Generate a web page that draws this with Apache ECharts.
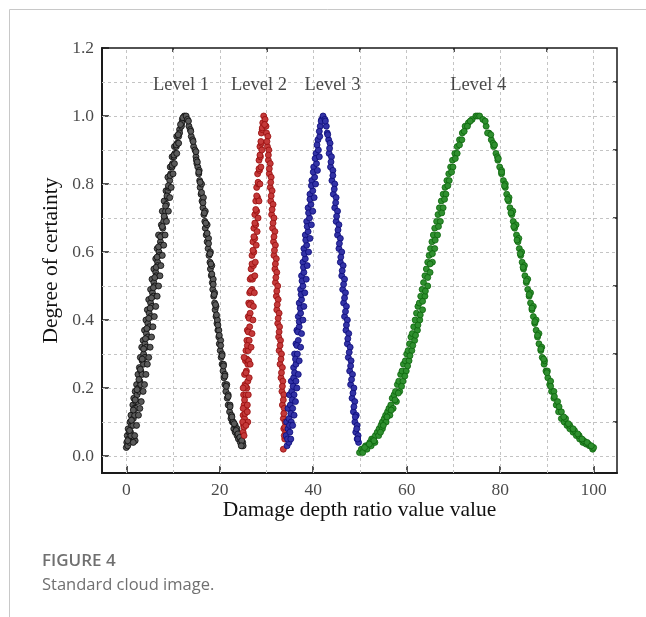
<!DOCTYPE html>
<html>
<head>
<meta charset="utf-8">
<title>Standard cloud image</title>
<script src="https://cdn.jsdelivr.net/npm/echarts@6/dist/echarts.min.js"></script>
<style>
  html, body { margin: 0; padding: 0; background: #fff; }
  #chart { width: 646px; height: 617px; }
</style>
</head>
<body>
<div id="chart"></div>
<script>
// axis ticks / labels
const xMin = -5.2, xMax = 105;
const yMin = -0.05, yMax = 1.2;
const xMajor = [0, 20, 40, 60, 80, 100];
const xMinor = [10, 30, 50, 70, 90];
const xGrid = [0, 10, 20, 30, 40, 50, 60, 70, 80, 90, 100];
const yMajor = [0, 0.2, 0.4, 0.6, 0.8, 1.0, 1.2];
const yMinor = [0.1, 0.3, 0.5, 0.7, 0.9, 1.1];
const yGrid = [0, 0.1, 0.2, 0.3, 0.4, 0.5, 0.6, 0.7, 0.8, 0.9, 1.0, 1.1];
const xTickText = ['0', '20', '40', '60', '80', '100'];
const yTickText = ['0.0', '0.2', '0.4', '0.6', '0.8', '1.0', '1.2'];

const levelNames = ['Level 1', 'Level 2', 'Level 3', 'Level 4'];
const levelLabelX = [11.7, 28.4, 44.1, 75.3];
const levelLabelY = [1.09, 1.09, 1.09, 1.09];

// cloud drops, [x, certainty]
const level1 = [
  [0.0,0.025],[0.1,0.04],[0.3,0.03],[0.2,0.06],[0.5,0.05],[0.6,0.07],[0.4,0.08],[0.9,0.07],[0.8,0.1],[1.1,0.09],
  [1.3,0.12],[1.0,0.12],[1.5,0.11],[1.4,0.15],[1.7,0.14],[1.6,0.17],[2.0,0.16],[1.9,0.19],[2.3,0.18],[2.2,0.21],
  [2.6,0.2],[2.5,0.24],[2.9,0.22],[2.8,0.26],[3.1,0.25],[3.0,0.29],[3.4,0.28],[3.3,0.32],[3.7,0.3],[3.6,0.34],
  [4.0,0.33],[3.9,0.37],[4.3,0.36],[4.2,0.4],[4.6,0.39],[4.5,0.43],[4.9,0.42],[4.8,0.46],[5.2,0.45],[5.2,0.49],
  [5.6,0.48],[5.5,0.52],[5.9,0.51],[5.9,0.55],[6.3,0.54],[6.3,0.58],[6.7,0.57],[6.6,0.61],[7.0,0.6],[6.9,0.65],
  [7.3,0.63],[7.5,0.68],[7.8,0.67],[7.7,0.72],[8.2,0.7],[8.1,0.75],[8.6,0.74],[8.5,0.78],[8.9,0.78],[8.9,0.82],
  [9.3,0.81],[9.4,0.85],[9.8,0.85],[9.8,0.88],[10.2,0.88],[10.3,0.91],[10.7,0.91],[10.8,0.94],[11.2,0.94],[11.4,0.96],
  [11.8,0.97],[12.0,0.99],[12.4,1.0],[1.9,0.045],
  [0.7,0.04],[1.0,0.06],[1.4,0.09],[1.8,0.12],[2.1,0.14],[2.4,0.16],[2.8,0.19],[3.1,0.21],[3.4,0.24],[3.7,0.27],
  [4.0,0.29],[4.3,0.32],[4.6,0.35],[4.9,0.38],[5.2,0.41],[5.5,0.44],[5.8,0.47],[6.1,0.5],[6.4,0.53],[6.7,0.56],
  [7.1,0.59],[7.4,0.62],[7.7,0.65],[8.0,0.69],[8.4,0.72],[8.8,0.76],[9.1,0.79],[9.5,0.83],[9.9,0.86],[10.4,0.89],
  [10.9,0.92],[11.4,0.95],[11.9,0.98],
  [0.3,0.045],[0.7,0.075],[1.1,0.105],[1.5,0.135],[1.9,0.165],[2.3,0.195],[2.7,0.225],[3.0,0.255],[3.4,0.285],[3.7,0.315],
  [4.1,0.345],[4.4,0.375],[4.8,0.405],[5.1,0.435],[5.4,0.465],[5.8,0.495],[6.1,0.525],[6.4,0.555],[6.6,0.585],[6.9,0.615],
  [7.3,0.645],[7.7,0.675],[8.1,0.705],[8.4,0.735],[8.7,0.765],[9.0,0.795],[9.4,0.825],[9.8,0.855],[10.2,0.885],[10.7,0.915],
  [11.1,0.945],[11.6,0.975],[12.1,0.995],
  [1.5,0.04],[1.8,0.06],[2.2,0.09],[2.6,0.12],[2.9,0.14],[3.2,0.16],[3.6,0.19],[3.9,0.21],[4.2,0.24],[4.5,0.27],
  [4.8,0.29],[5.1,0.32],[5.4,0.35],[5.7,0.38],[6.0,0.41],[6.3,0.44],[6.6,0.47],[6.9,0.5],[7.2,0.53],[7.4,0.56],
  [7.7,0.59],[8.0,0.62],[8.3,0.65],[8.6,0.69],[9.0,0.72],[9.3,0.76],[9.6,0.79],[10.0,0.83],[10.3,0.86],[10.8,0.89],
  [11.2,0.92],
  [12.8,1.0],[13.1,0.99],[13.4,0.97],[13.7,0.96],[13.9,0.94],[14.2,0.93],[14.4,0.91],[14.7,0.9],[14.9,0.88],[15.1,0.86],
  [15.3,0.85],[15.5,0.83],[15.7,0.81],[15.8,0.79],[16.0,0.77],[16.2,0.75],[16.4,0.73],[16.6,0.71],[16.8,0.69],[16.9,0.67],
  [17.1,0.65],[17.3,0.63],[17.5,0.61],[17.7,0.59],[17.9,0.57],[18.0,0.55],[18.2,0.53],[18.4,0.51],[18.5,0.49],[18.7,0.47],
  [18.9,0.45],[19.0,0.43],[19.2,0.41],[19.4,0.39],[19.6,0.37],[19.8,0.35],[19.9,0.33],[20.1,0.31],[20.3,0.29],[20.5,0.27],
  [20.7,0.25],[20.9,0.23],[21.1,0.21],[21.3,0.19],[21.6,0.17],[21.8,0.15],[22.1,0.13],[22.4,0.11],[22.7,0.1],[23.0,0.08],
  [23.3,0.07],[23.7,0.06],[24.0,0.05],[24.4,0.04],[24.8,0.03],
  [15.0,0.87],[15.6,0.84],[16.1,0.8],[16.5,0.76],[16.9,0.72],[17.3,0.68],[17.6,0.64],[18.0,0.6],[18.3,0.56],[18.6,0.52],
  [18.9,0.48],[19.2,0.44],[19.5,0.4],[19.8,0.37],[20.2,0.34],[20.5,0.3],[20.8,0.27],[21.1,0.24],[21.5,0.21],[21.8,0.18],
  [22.2,0.15],[22.5,0.12],[22.9,0.1],[23.3,0.09],[23.7,0.08],[24.1,0.06],[24.5,0.05],[24.9,0.04],[25.0,0.03],
  [13.3,0.985],[13.8,0.955],[14.3,0.925],[14.9,0.895],[15.2,0.865],[15.5,0.835],[15.8,0.805],[16.1,0.775],[16.4,0.745],[16.7,0.715],
  [17.0,0.685],[17.3,0.655],[17.6,0.625],[17.9,0.595],[18.1,0.565],[18.3,0.535],[18.6,0.505],[18.8,0.475],[19.1,0.445],[19.3,0.415],
  [19.6,0.385],[19.9,0.355],[20.2,0.325],[20.5,0.295],[20.8,0.265],[21.1,0.235],[21.4,0.205],[21.8,0.175],[22.2,0.145],[22.6,0.115],
  [23.1,0.095],[23.5,0.075],[23.9,0.065],[24.3,0.055],[24.7,0.045],[24.6,0.03]
];

const level2 = [
  [25.0,0.07],[25.1,0.09],[25.0,0.12],[25.3,0.11],[25.2,0.15],[25.5,0.14],[25.1,0.18],[25.6,0.18],[25.4,0.21],[25.8,0.2],
  [25.3,0.24],[25.7,0.25],[25.5,0.28],[26.0,0.27],[25.6,0.31],[26.1,0.31],[25.8,0.34],[26.3,0.34],[25.9,0.37],[26.4,0.38],
  [26.1,0.41],[26.5,0.42],[26.2,0.45],[26.7,0.45],[26.4,0.48],[26.9,0.49],[26.5,0.52],[27.0,0.52],[26.7,0.55],[27.2,0.56],
  [26.9,0.59],[27.3,0.6],[27.1,0.63],[27.5,0.64],[27.3,0.67],[27.7,0.68],[27.5,0.71],[27.9,0.72],[27.7,0.75],[28.1,0.76],
  [27.9,0.79],[28.3,0.8],[28.1,0.83],[28.5,0.84],[28.4,0.87],[28.7,0.88],[28.6,0.91],[28.9,0.92],[28.9,0.95],[29.1,0.96],
  [29.2,0.98],[29.4,1.0],[26.0,0.1],
  [25.2,0.085],[25.4,0.125],[25.3,0.165],[25.5,0.205],[25.6,0.245],[25.8,0.285],[25.9,0.325],[26.1,0.365],[26.3,0.405],[26.4,0.445],
  [26.6,0.485],[26.8,0.525],[26.9,0.565],[27.1,0.605],[27.3,0.645],[27.5,0.685],[27.7,0.725],[27.9,0.765],[28.2,0.805],[28.4,0.845],
  [28.6,0.885],[28.8,0.925],[29.1,0.965],[25.2,0.06],
  [24.9,0.1],[25.0,0.14],[25.0,0.2],[25.9,0.15],[26.0,0.22],[26.2,0.28],[25.2,0.29],
  [25.6,0.09],[25.9,0.13],[26.1,0.18],[26.3,0.23],[26.5,0.27],[26.7,0.32],[26.9,0.36],[27.1,0.4],[27.2,0.44],[27.4,0.48],
  [27.5,0.53],[27.6,0.57],[27.8,0.62],[28.0,0.66],[28.2,0.7],[28.4,0.75],[28.6,0.8],[28.8,0.85],[29.0,0.9],
  [29.7,0.99],[29.9,0.97],[30.0,0.95],[30.3,0.94],[30.2,0.91],[30.5,0.9],[30.4,0.87],[30.8,0.86],[30.6,0.83],[31.0,0.82],
  [30.8,0.79],[31.2,0.78],[30.9,0.75],[31.4,0.74],[31.1,0.71],[31.6,0.7],[31.3,0.67],[31.8,0.66],[31.5,0.63],[31.9,0.62],
  [31.6,0.59],[32.1,0.58],[31.8,0.55],[32.2,0.54],[31.9,0.51],[32.4,0.5],[32.1,0.47],[32.5,0.46],[32.2,0.43],[32.7,0.42],
  [32.4,0.39],[32.8,0.38],[32.6,0.35],[33.0,0.34],[32.7,0.31],[33.2,0.3],[32.9,0.27],[33.4,0.26],[33.1,0.23],[33.5,0.22],
  [33.3,0.19],[33.7,0.18],[33.4,0.15],[33.8,0.14],[33.6,0.11],[34.0,0.1],[33.7,0.08],[34.1,0.07],[33.9,0.05],[33.6,0.02],
  [29.6,0.975],[30.1,0.925],[30.4,0.885],[30.6,0.845],[30.9,0.805],[31.0,0.765],[31.2,0.725],[31.4,0.685],[31.6,0.645],[31.7,0.605],
  [31.9,0.565],[32.0,0.525],[32.2,0.485],[32.3,0.445],[32.5,0.405],[32.7,0.365],[32.9,0.325],[33.1,0.285],[33.2,0.245],[33.4,0.205],
  [33.6,0.165],[33.7,0.125],[33.9,0.085],[33.8,0.06]
];

const level3 = [
  [34.4,0.03],[34.8,0.04],[34.2,0.06],[34.6,0.08],[35.0,0.07],[34.3,0.1],[34.8,0.11],[35.3,0.1],[34.6,0.14],[35.1,0.15],
  [35.6,0.14],[34.9,0.18],[35.4,0.19],[35.9,0.18],[35.3,0.22],[35.8,0.23],[36.3,0.22],[35.8,0.26],[36.3,0.27],[36.0,0.3],
  [36.6,0.3],[36.3,0.33],[36.8,0.34],[36.5,0.37],[37.0,0.38],[36.8,0.41],[37.3,0.42],[37.0,0.45],[37.5,0.46],[37.3,0.49],
  [37.8,0.5],[37.5,0.53],[38.0,0.54],[37.8,0.57],[38.3,0.58],[38.0,0.61],[38.6,0.62],[38.3,0.65],[38.9,0.66],[38.6,0.69],
  [39.2,0.7],[38.9,0.73],[39.5,0.74],[39.3,0.77],[39.9,0.78],[39.7,0.81],[40.3,0.82],[40.1,0.85],[40.7,0.86],[40.6,0.89],
  [41.1,0.9],[41.0,0.93],[41.4,0.94],[41.5,0.97],[41.8,0.99],[42.1,1.0],
  [34.5,0.05],[34.9,0.09],[35.2,0.125],[35.5,0.165],[35.7,0.205],[36.0,0.245],[36.2,0.285],[36.5,0.325],[36.7,0.365],[37.0,0.395],
  [37.2,0.435],[37.4,0.475],[37.6,0.515],[37.9,0.555],[38.1,0.595],[38.4,0.635],[38.7,0.675],[39.0,0.715],[39.3,0.755],[39.6,0.795],
  [40.0,0.835],[40.4,0.875],[40.8,0.915],[41.3,0.955],[41.7,0.985],
  [35.2,0.05],[35.6,0.09],[35.9,0.12],[36.2,0.16],[36.5,0.2],[36.8,0.24],[37.0,0.28],[37.3,0.32],[37.5,0.36],[37.8,0.4],
  [38.0,0.44],[38.2,0.48],[38.5,0.52],[38.7,0.56],[39.0,0.6],[39.3,0.64],[39.6,0.68],[39.9,0.72],[40.2,0.76],[40.5,0.8],
  [40.9,0.84],[41.3,0.88],
  [42.5,0.99],[42.8,0.97],[43.0,0.95],[43.3,0.93],[43.6,0.92],[43.4,0.89],[43.9,0.88],[43.7,0.85],[44.2,0.84],[44.0,0.81],
  [44.6,0.8],[44.3,0.77],[44.9,0.76],[44.6,0.73],[45.2,0.72],[44.9,0.69],[45.5,0.68],[45.2,0.65],[45.8,0.64],[45.5,0.61],
  [46.1,0.6],[45.8,0.57],[46.4,0.56],[46.1,0.53],[46.7,0.52],[46.3,0.49],[46.9,0.48],[46.5,0.45],[47.1,0.44],[46.7,0.41],
  [47.3,0.4],[47.0,0.37],[47.6,0.36],[47.3,0.33],[47.9,0.32],[47.5,0.29],[48.1,0.28],[47.8,0.25],[48.4,0.24],[48.0,0.21],
  [48.7,0.2],[48.3,0.17],[48.9,0.16],[48.6,0.13],[49.2,0.12],[48.9,0.1],[49.4,0.09],[49.1,0.07],[49.6,0.06],[49.4,0.05],
  [49.7,0.04],
  [42.6,0.985],[43.1,0.945],[43.5,0.905],[43.8,0.865],[44.2,0.825],[44.5,0.785],[44.8,0.745],[45.0,0.705],[45.3,0.665],[45.6,0.625],
  [45.9,0.585],[46.2,0.545],[46.5,0.505],[46.7,0.465],[46.9,0.425],[47.1,0.385],[47.4,0.345],[47.7,0.305],[48.0,0.265],[48.2,0.225],
  [48.5,0.185],[48.7,0.145],[49.0,0.115],[49.3,0.08],[49.5,0.05]
];

const level4 = [
  [49.9,0.01],[50.3,0.02],[50.8,0.02],[51.2,0.03],[51.7,0.03],[52.1,0.04],[52.5,0.05],[52.9,0.05],[53.3,0.06],[53.7,0.07],
  [54.1,0.08],[54.5,0.09],[54.8,0.1],[55.2,0.11],[55.5,0.12],[55.9,0.13],[56.2,0.14],[56.6,0.15],[56.9,0.17],[57.3,0.18],
  [57.6,0.19],[58.0,0.21],[58.3,0.22],[58.7,0.24],[59.0,0.25],[59.3,0.27],[59.7,0.28],[60.0,0.3],[60.3,0.31],[60.6,0.33],
  [60.9,0.35],[61.2,0.36],[61.5,0.38],[61.8,0.4],[62.1,0.42],[62.4,0.44],[62.7,0.45],[63.0,0.47],[63.3,0.49],[63.6,0.51],
  [63.9,0.53],[64.2,0.55],[64.5,0.57],[64.8,0.59],[65.1,0.61],[65.4,0.63],[65.7,0.65],[66.0,0.67],[66.4,0.69],[66.7,0.71],
  [67.0,0.73],[67.4,0.75],[67.8,0.77],[68.2,0.79],[68.6,0.81],[69.0,0.83],[69.4,0.85],[69.8,0.87],[70.3,0.89],[70.8,0.91],
  [71.3,0.93],[71.9,0.95],[72.5,0.97],[73.2,0.98],[74.0,0.99],[74.8,1.0],
  [50.6,0.01],[51.5,0.02],[52.4,0.03],[53.2,0.04],[54.0,0.06],[54.8,0.08],[55.6,0.1],[56.4,0.12],[57.1,0.14],[57.8,0.16],
  [58.5,0.19],[59.2,0.22],[59.9,0.25],[60.5,0.28],[61.1,0.31],[61.7,0.34],[62.3,0.37],[62.8,0.4],[63.4,0.43],[63.9,0.47],
  [64.5,0.5],[65.0,0.54],[65.5,0.57],[66.0,0.61],[66.6,0.65],[67.2,0.69],[67.8,0.73],[68.4,0.77],[69.1,0.81],[69.9,0.85],
  [70.8,0.89],[71.8,0.93],[73.0,0.97],
  [51.0,0.025],[52.0,0.035],[53.0,0.045],[54.4,0.07],[55.0,0.09],[55.8,0.115],[56.7,0.135],[57.5,0.165],[58.2,0.185],[58.9,0.205],
  [59.6,0.235],[60.2,0.265],[60.7,0.295],[61.3,0.325],[61.9,0.355],[62.4,0.385],[62.9,0.415],[63.4,0.455],[64.0,0.485],[64.5,0.525],
  [65.0,0.565],[65.5,0.595],[66.1,0.635],[66.8,0.675],[67.5,0.715],[68.1,0.755],[68.8,0.795],[69.6,0.835],[70.4,0.875],[71.3,0.915],
  [72.3,0.955],[73.6,0.985],[75.2,1.0],
  [75.6,1.0],[76.3,0.99],[77.0,0.97],[77.6,0.95],[78.1,0.93],[78.6,0.91],[79.1,0.89],[79.5,0.87],[79.9,0.85],[80.3,0.83],
  [80.7,0.81],[81.1,0.79],[81.4,0.77],[81.8,0.75],[82.1,0.73],[82.5,0.71],[82.8,0.69],[83.1,0.67],[83.5,0.65],[83.8,0.63],
  [84.1,0.61],[84.4,0.59],[84.7,0.57],[85.0,0.55],[85.3,0.53],[85.6,0.51],[85.9,0.49],[86.2,0.47],[86.5,0.45],[86.8,0.43],
  [87.1,0.41],[87.4,0.39],[87.7,0.37],[88.0,0.35],[88.3,0.33],[88.7,0.31],[89.0,0.29],[89.4,0.27],[89.8,0.25],[90.2,0.23],
  [90.6,0.21],[91.0,0.19],[91.5,0.17],[92.0,0.15],[92.5,0.13],[93.1,0.11],[93.7,0.1],[94.3,0.09],[94.9,0.08],[95.6,0.07],
  [96.3,0.06],[97.0,0.05],[97.7,0.04],[98.4,0.035],[99.1,0.03],[99.8,0.02],
  [77.3,0.95],[78.5,0.92],[79.4,0.88],[80.3,0.84],[81.1,0.8],[81.9,0.76],[82.7,0.72],[83.4,0.68],[84.0,0.64],[84.6,0.6],
  [85.2,0.56],[85.9,0.52],[86.5,0.48],[87.1,0.44],[87.7,0.4],[88.3,0.36],[88.9,0.32],[89.5,0.28],[90.1,0.25],[90.8,0.22],
  [91.5,0.19],[92.3,0.16],[93.1,0.13],[94.0,0.11],[94.9,0.09],[95.9,0.075],[96.9,0.06],[97.9,0.045],[98.9,0.035],[100.0,0.025],
  [76.8,0.985],[78.0,0.945],[78.8,0.915],[79.6,0.875],[80.3,0.835],[80.9,0.795],[81.6,0.755],[82.3,0.715],[82.9,0.675],[83.6,0.635],
  [84.3,0.595],[84.9,0.555],[85.6,0.515],[86.2,0.475],[86.8,0.435],[87.4,0.395],[88.0,0.355],[88.7,0.315],[89.3,0.285],[90.0,0.245],
  [90.8,0.205],[91.6,0.175],[92.6,0.145],[93.6,0.115],[94.6,0.095],[95.6,0.08],[96.6,0.065],[97.5,0.05],[98.6,0.04],[99.5,0.03]
];

const serif = 'Liberation Serif';
const ink = '#1a1a1a';

const chart = echarts.init(document.getElementById('chart'), null, { renderer: 'canvas' });

// 两条叠在一起的轴: 一条画主刻度, 一条只画次刻度; 刻度文字由下面的 label 系列画
const makeAxis = (min, max, major, minor) => {
  const common = {
    type: 'value', min: min, max: max,
    splitLine: { show: false },
    axisLabel: { show: false }
  };
  return [
    Object.assign({}, common, {
      axisLine: { show: true, onZero: false, lineStyle: { color: ink, width: 2 } },
      axisTick: { show: true, inside: true, length: 7, customValues: major, lineStyle: { color: ink, width: 1.5 } }
    }),
    Object.assign({}, common, {
      axisLine: { show: false, onZero: false },
      axisTick: { show: true, inside: true, length: 4, customValues: minor, lineStyle: { color: ink, width: 1.5 } }
    })
  ];
};

const xAxes = makeAxis(xMin, xMax, xMajor, xMinor);
xAxes[0].name = 'Damage depth ratio value value';
xAxes[0].nameLocation = 'middle';
xAxes[0].nameGap = 26;
xAxes[0].nameTextStyle = { fontFamily: serif, fontSize: 21.5, color: '#111' };

const yAxes = makeAxis(yMin, yMax, yMajor, yMinor);
yAxes[0].name = 'Degree of certainty';
yAxes[0].nameLocation = 'middle';
yAxes[0].nameGap = 40;
yAxes[0].nameTextStyle = { fontFamily: serif, fontSize: 21.5, color: '#111' };

const cloud = (data, fill, edge) => ({
  type: 'scatter',
  data: data,
  symbol: 'circle',
  symbolSize: 6,
  z: 3,
  itemStyle: { color: fill, borderColor: edge, borderWidth: 0.8, opacity: 1 }
});

const textSeries = (data, position, distance, size) => ({
  type: 'scatter',
  symbolSize: 0,
  silent: true,
  clip: false,
  z: 4,
  data: data,
  label: {
    show: true, position: position, distance: distance,
    formatter: (p) => p.data[2],
    fontFamily: serif, fontSize: size, color: '#1a1a1a'
  }
});

const option = {
  animation: false,
  backgroundColor: '#fff',
  textStyle: { fontFamily: serif },
  grid: {
    left: 102, right: 29, top: 48, bottom: 144,
    show: true, borderColor: ink, borderWidth: 1.5, backgroundColor: 'transparent'
  },
  xAxis: xAxes,
  yAxis: yAxes,
  series: [
    {
      // 网格虚线
      type: 'line',
      data: [],
      silent: true,
      markLine: {
        silent: true,
        z: 1,
        symbol: 'none',
        label: { show: false },
        emphasis: { disabled: true },
        lineStyle: { type: [3, 3], color: '#c4c4c4', width: 1 },
        data: xGrid.map(v => ({ xAxis: v })).concat(yGrid.map(v => ({ yAxis: v })))
      }
    },
    cloud(level1, '#5a5a5a', '#0a0a0a'),
    cloud(level2, '#c43a3a', '#980d0d'),
    cloud(level3, '#3333a6', '#0a0a7a'),
    cloud(level4, '#2f8f2f', '#0b660b'),
    textSeries(levelNames.map((n, i) => [levelLabelX[i], levelLabelY[i], n]), 'inside', 0, 18.5),
    textSeries(xMajor.map((v, i) => [v, yMin, xTickText[i]]), 'bottom', 8, 17.5),
    textSeries(yMajor.map((v, i) => [xMin, v, yTickText[i]]), 'left', 8, 17.5)
  ],
  graphic: [
    { type: 'line', shape: { x1: 9.5, y1: 9.5, x2: 646, y2: 9.5 }, style: { stroke: '#c8c8c8', lineWidth: 1 } },
    { type: 'line', shape: { x1: 9.5, y1: 9.5, x2: 9.5, y2: 617 }, style: { stroke: '#c8c8c8', lineWidth: 1 } },
    {
      type: 'text', x: 42, y: 561,
      style: { text: 'FIGURE 4', font: '600 17px "Open Sans", sans-serif', fill: '#707070', verticalAlign: 'middle' }
    },
    {
      type: 'text', x: 42, y: 585,
      style: { text: 'Standard cloud image.', font: '16.5px "Open Sans", sans-serif', fill: '#707070', verticalAlign: 'middle' }
    }
  ]
};

chart.setOption(option);
</script>
</body>
</html>
